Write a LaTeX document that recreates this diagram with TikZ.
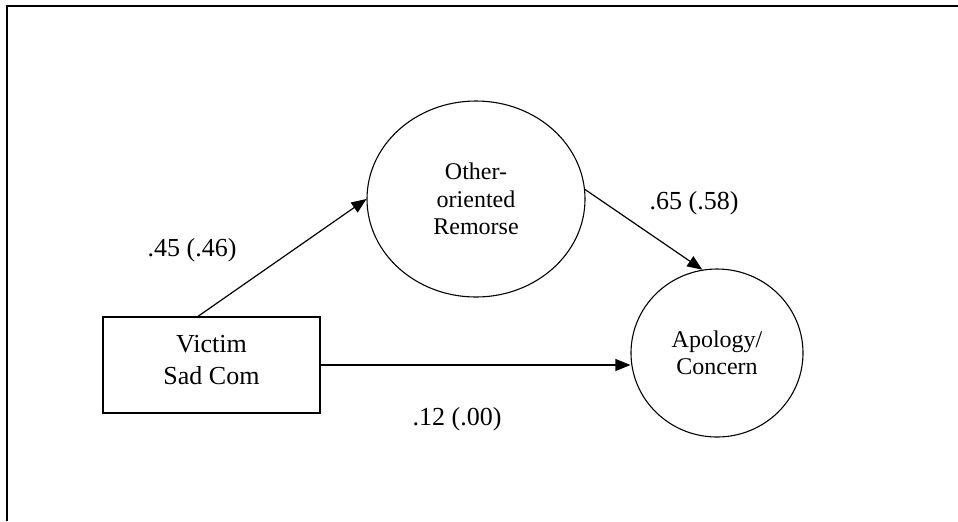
\documentclass[tikz,border=0pt]{standalone}
\usepackage{fontspec}
\setmainfont{Liberation Serif}
\usetikzlibrary{shapes.geometric,arrows.meta}
\tikzset{
  frame/.style={line width=1pt},
  latent/.style={draw,ellipse,line width=0.55pt,inner sep=0pt,align=center,
     font=\fontsize{12pt}{13.75pt}\selectfont},
  observed/.style={draw,rectangle,line width=0.65pt,inner sep=0pt,align=center,
     text depth=5pt,font=\fontsize{13pt}{15.8pt}\selectfont},
  arr/.style={line width=0.6pt,-{Triangle[length=7.5pt,width=6pt]}},
  coef/.style={anchor=base,inner sep=0pt,font=\fontsize{13pt}{15.6pt}\selectfont}
}
\begin{document}
\begin{tikzpicture}[x=0.5pt,y=-0.5pt]
\useasboundingbox (0,0) rectangle (958,521);
\draw[frame] (7,521) -- (7,6) -- (958,6);
\node[observed,minimum width=108.5pt,minimum height=48pt] (vic) at (211.5,365) {Victim\\Sad Com};
\node[latent,minimum width=109pt,minimum height=98pt] (rem) at (476,199) {Other-\\oriented\\Remorse};
\node[latent,minimum width=86pt,minimum height=84pt] (apo) at (717,353) {Apology/\\Concern};
\draw[arr] ([xshift=-6.75pt]vic.north) -- (rem.west);
\draw[arr] (vic.east) -- (vic.east -| apo.west);
\draw[arr] (rem.5) -- (apo.100);
\node[coef] (c1) at (192,256) {.45 (.46)};
\node[coef] (c2) at (694,209) {.65 (.58)};
\node[coef] (c3) at (457,425) {.12 (.00)};
\end{tikzpicture}
\end{document}
